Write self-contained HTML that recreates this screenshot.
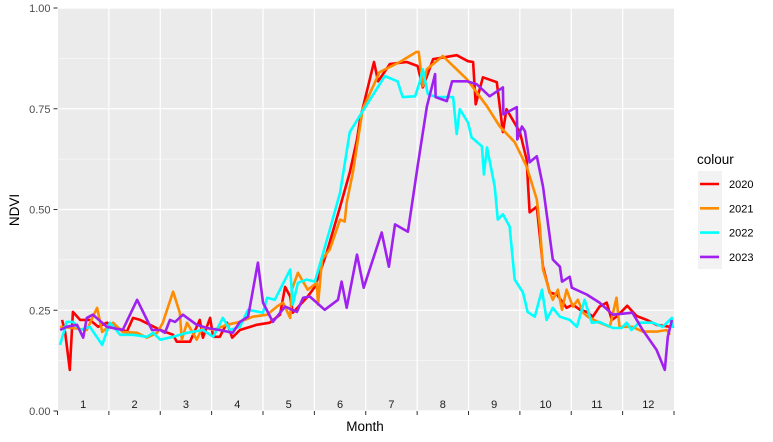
<!DOCTYPE html>
<html><head><meta charset="utf-8"><style>
html,body{margin:0;padding:0;background:#fff;}
svg{display:block;font-family:"Liberation Sans",Arial,sans-serif;}
</style></head><body>
<svg id="chart" width="773" height="442" viewBox="0 0 773 442">
  <rect x="58" y="8" width="616" height="403" fill="#ebebeb"/>
  <g id="grid"></g>
  <g id="series"></g>
  <g id="axes"></g>
  <text x="365" y="431" font-size="13.5" text-anchor="middle" fill="#000">Month</text>
  <text transform="translate(19,210) rotate(-90)" font-size="13.5" text-anchor="middle" fill="#000">NDVI</text>
  <g>
    <text x="697" y="164" font-size="13.5" fill="#000">colour</text>
    <rect x="698" y="171" width="24" height="98" fill="#f2f2f2"/>
    <g id="legend-entries"></g>
  </g>
</svg>
<script>
const months = ["1","2","3","4","5","6","7","8","9","10","11","12"];
const yTicks = [0, 0.25, 0.5, 0.75, 1.0];
const yTickLabels = ["0.00","0.25","0.50","0.75","1.00"];
const seriesNames = ["2020","2021","2022","2023"];
const seriesColors = ["#ff0000","#ff8c00","#00ffff","#a020f0"];

const m2020 = [0.09,0.15,0.24,0.30,0.44,0.63,0.79,0.96,1.16,1.35,1.47,1.61,1.80,2.00,2.25,2.32,2.58,2.77,2.83,2.97,3.03,3.16,3.30,3.40,3.55,3.88,4.13,4.33,4.43,4.53,4.58,4.85,5.01,5.24,5.50,5.69,5.83,5.89,6.16,6.24,6.47,6.80,7.01,7.11,7.31,7.77,7.99,8.09,8.14,8.28,8.55,8.67,8.74,9.00,9.13,9.19,9.33,9.45,9.58,9.72,9.91,10.03,10.17,10.30,10.42,10.55,10.69,10.79,10.88,11.09,11.27,11.47,11.66,11.92];
const v2020 = [0.226,0.194,0.102,0.246,0.226,0.226,0.209,0.219,0.206,0.197,0.231,0.226,0.214,0.201,0.189,0.172,0.172,0.226,0.182,0.231,0.184,0.184,0.219,0.182,0.201,0.214,0.219,0.239,0.308,0.284,0.244,0.281,0.308,0.393,0.507,0.592,0.674,0.724,0.866,0.818,0.861,0.866,0.856,0.803,0.873,0.883,0.868,0.866,0.761,0.828,0.816,0.692,0.749,0.692,0.624,0.493,0.507,0.358,0.294,0.289,0.256,0.264,0.251,0.246,0.234,0.259,0.269,0.226,0.234,0.261,0.236,0.226,0.214,0.209];

const m2021 = [0.05,0.30,0.57,0.77,0.87,1.08,1.27,1.55,1.74,1.94,2.05,2.25,2.38,2.42,2.52,2.71,2.83,3.03,3.30,3.55,3.80,4.08,4.27,4.39,4.53,4.56,4.68,4.87,5.05,5.07,5.15,5.30,5.50,5.59,5.63,5.75,5.94,6.27,6.66,6.99,7.03,7.11,7.19,7.50,7.97,8.36,8.61,8.90,9.13,9.33,9.39,9.45,9.58,9.64,9.74,9.82,9.91,10.03,10.13,10.23,10.32,10.55,10.75,10.88,10.94,11.19,11.39,11.66,11.86,11.92];
const v2021 = [0.209,0.206,0.201,0.256,0.196,0.219,0.196,0.194,0.182,0.194,0.219,0.296,0.244,0.177,0.219,0.177,0.209,0.201,0.214,0.221,0.234,0.239,0.259,0.269,0.231,0.301,0.343,0.301,0.318,0.264,0.376,0.401,0.475,0.470,0.517,0.592,0.749,0.841,0.866,0.891,0.891,0.806,0.848,0.881,0.823,0.756,0.706,0.667,0.607,0.525,0.458,0.351,0.296,0.276,0.301,0.251,0.301,0.259,0.276,0.244,0.234,0.219,0.209,0.281,0.209,0.209,0.197,0.197,0.201,0.189];

const m2022 = [0.05,0.18,0.30,0.44,0.63,0.87,1.02,1.22,1.47,1.74,1.86,2.00,2.25,2.52,2.83,3.03,3.22,3.36,3.55,3.71,4.00,4.08,4.23,4.53,4.58,4.68,4.85,5.01,5.15,5.30,5.50,5.69,5.94,6.37,6.62,6.72,6.96,7.05,7.11,7.21,7.38,7.70,7.77,7.83,7.99,8.06,8.26,8.30,8.36,8.51,8.57,8.67,8.80,8.90,9.06,9.15,9.29,9.43,9.52,9.64,9.78,9.97,10.11,10.26,10.40,10.55,10.81,10.98,11.08,11.17,11.32,11.59,11.78,11.96,11.98];
const v2022 = [0.164,0.221,0.221,0.201,0.209,0.164,0.219,0.189,0.189,0.184,0.194,0.177,0.184,0.194,0.201,0.184,0.231,0.201,0.209,0.251,0.244,0.281,0.276,0.351,0.264,0.318,0.326,0.321,0.383,0.450,0.542,0.692,0.744,0.831,0.818,0.779,0.781,0.816,0.848,0.786,0.779,0.779,0.687,0.749,0.716,0.679,0.657,0.587,0.654,0.557,0.475,0.488,0.458,0.326,0.294,0.246,0.234,0.301,0.226,0.256,0.234,0.226,0.209,0.276,0.219,0.221,0.206,0.206,0.219,0.201,0.219,0.219,0.209,0.231,0.206];

const m2023 = [0.05,0.18,0.38,0.50,0.57,0.69,0.96,1.27,1.55,1.84,2.00,2.09,2.19,2.29,2.44,2.71,2.91,3.16,3.41,3.55,3.71,3.90,4.00,4.19,4.43,4.66,4.78,4.91,5.20,5.46,5.53,5.63,5.83,5.96,6.31,6.45,6.57,6.82,7.01,7.19,7.31,7.35,7.36,7.58,7.68,7.97,8.16,8.41,8.67,8.68,8.94,8.95,9.04,9.10,9.19,9.33,9.45,9.64,9.78,9.82,9.97,10.01,10.30,10.55,10.81,11.19,11.39,11.66,11.82,11.88,11.96];
const v2023 = [0.201,0.209,0.214,0.182,0.231,0.239,0.209,0.201,0.276,0.201,0.201,0.194,0.226,0.221,0.239,0.214,0.206,0.201,0.194,0.221,0.234,0.368,0.269,0.221,0.259,0.246,0.281,0.284,0.251,0.276,0.321,0.256,0.388,0.306,0.443,0.358,0.463,0.445,0.607,0.756,0.816,0.836,0.779,0.769,0.818,0.818,0.811,0.781,0.803,0.736,0.754,0.674,0.706,0.694,0.617,0.632,0.557,0.376,0.358,0.321,0.333,0.306,0.289,0.269,0.239,0.244,0.201,0.152,0.102,0.184,0.226];

const seriesMonths = [m2020, m2021, m2022, m2023];
const seriesValues = [v2020, v2021, v2022, v2023];

const NS = "http://www.w3.org/2000/svg";
const PL = 57.5, PR = 674, PT = 8, PB = 411;
function xScale(m){ return PL + m / 12 * (PR - PL); }
function yScale(v){ return PB - v * (PB - PT); }
function mk(tag, attrs, parent){
  const e = document.createElementNS(NS, tag);
  for (const k in attrs) e.setAttribute(k, attrs[k]);
  parent.appendChild(e);
  return e;
}
const grid = document.getElementById('grid');
const axes = document.getElementById('axes');
// horizontal minor + major
for (let i = 0; i < yTicks.length; i++) {
  if (i < yTicks.length - 1) {
    const mid = (yTicks[i] + yTicks[i+1]) / 2;
    const gm = mk('line', {x1:PL, x2:PR, y1:yScale(mid), y2:yScale(mid), stroke:'#fff', 'stroke-width':0.6}, grid);
    
    
  }
  const g = mk('line', {x1:PL, x2:PR, y1:yScale(yTicks[i]), y2:yScale(yTicks[i]), stroke:'#fff', 'stroke-width':1.2}, grid);
  
  
  const t = mk('line', {x1:PL-4, x2:PL, y1:yScale(yTicks[i]), y2:yScale(yTicks[i]), stroke:'#333', 'stroke-width':1}, axes);
  
  
  const lb = mk('text', {x:PL-7, y:yScale(yTicks[i])+4, 'font-size':11, 'text-anchor':'end', fill:'#4d4d4d'}, axes);
  lb.textContent = yTickLabels[i];
  
  
}
// vertical month boundaries
for (let i = 0; i <= months.length; i++) {
  const x = xScale(i);
  if (i > 0 && i < months.length) {
    const g = mk('line', {x1:x, x2:x, y1:PT, y2:PB, stroke:'#fff', 'stroke-width':1.2}, grid);
    
    
  }
  const t = mk('line', {x1:x, x2:x, y1:PB, y2:PB+4, stroke:'#333', 'stroke-width':1}, axes);
  
  
}
months.forEach((m, i) => {
  const lb = mk('text', {x:xScale(i+0.5), y:408, 'font-size':11, 'text-anchor':'middle', fill:'#1a1a1a'}, axes);
  lb.textContent = m;
  
  
});
// series
const sg = document.getElementById('series');
seriesNames.forEach((name, s) => {
  const ms = seriesMonths[s], vs = seriesValues[s];
  const n = Math.min(ms.length, vs.length);
  const pts = [];
  for (let i = 0; i < n; i++) pts.push(xScale(ms[i]).toFixed(1) + ',' + yScale(vs[i]).toFixed(1));
  const pl = mk('polyline', {points:pts.join(' '), fill:'none', stroke:seriesColors[s], 'stroke-width':2.6, 'stroke-linejoin':'round'}, sg);
  
  
});
// legend
const lg = document.getElementById('legend-entries');
seriesNames.forEach((name, s) => {
  const y = 184 + s * 24.3;
  const ln = mk('line', {x1:700, x2:719, y1:y, y2:y, stroke:seriesColors[s], 'stroke-width':2.6}, lg);
  
  
  const t = mk('text', {x:729, y:y+4, 'font-size':11, fill:'#000'}, lg);
  t.textContent = name;
  
  
});
</script>
</body></html>
